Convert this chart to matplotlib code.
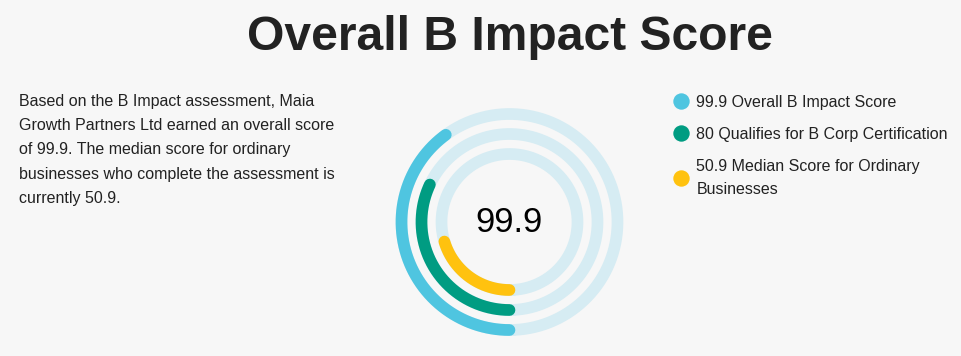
"""Overall B Impact Score radial bar chart."""

import matplotlib

matplotlib.use("Agg")
import matplotlib.pyplot as plt
import numpy as np
from matplotlib.lines import Line2D

plt.rcParams["font.family"] = ["Liberation Sans", "DejaVu Sans"]

# data
labels = [
    "99.9 Overall B Impact Score",
    "80 Qualifies for B Corp Certification",
    "50.9 Median Score for Ordinary\nBusinesses",
]
scores = [99.9, 80, 50.9]
score_max = 250
colors = ["#4fc5e0", "#009c82", "#ffc20f"]
center_label = "99.9"
title = "Overall B Impact Score"
description = [
    "Based on the B Impact assessment, Maia",
    "Growth Partners Ltd earned an overall score",
    "of 99.9. The median score for ordinary",
    "businesses who complete the assessment is",
    "currently 50.9.",
]

W, H = 962, 356
bg = "#f7f7f7"
track = "#d6ecf3"

fig = plt.figure(figsize=(W / 100, H / 100), dpi=100, facecolor=bg)


def fx(px):
    return px / W


def fy(py):
    return 1 - py / H


# radial bars in a polar axes, r measured in pixels
cx, cy, half = 509.5, 222, 120
ax = fig.add_axes(
    [fx(cx - half), fy(cy + half), 2 * half / W, 2 * half / H], projection="polar"
)
ax.set_theta_zero_location("S")
ax.set_theta_direction(-1)
ax.set_ylim(0, half)
ax.set_facecolor("none")
ax.axis("off")

radii = [108, 88, 68]
lw = 11.7 * 0.72
full = np.linspace(0, 2 * np.pi, 400)
for r, val, c in zip(radii, scores, colors):
    ax.plot(full, np.full_like(full, r), color=track, lw=lw, zorder=1)
    theta = np.linspace(0, val / score_max * 2 * np.pi, 300)
    ax.plot(
        theta,
        np.full_like(theta, r),
        color=c,
        lw=lw,
        solid_capstyle="round",
        zorder=2,
    )

fig.text(fx(509), fy(231.7), center_label, fontsize=25, ha="center",
         va="baseline", color="black")

# title
fig.text(fx(510), fy(50), title, fontsize=34.6, fontweight="bold",
         ha="center", va="baseline", color="#222222")

# description (va=baseline pins the last line)
fig.text(fx(19), fy(203), "\n".join(description), fontsize=11.52,
         ha="left", va="baseline", color="#222222", linespacing=1.78)

# legend
handles = [
    Line2D([], [], marker="o", ls="", markersize=11.8, color=c,
           markeredgewidth=0)
    for c in colors
]
leg = fig.legend(
    handles, labels, loc="upper left", bbox_to_anchor=(fx(672.5), fy(95)),
    frameon=False, fontsize=11.52, borderpad=0, borderaxespad=0,
    handlelength=1.0, handletextpad=0.5, labelspacing=1.05,
)
for t in leg.get_texts():
    t.set_color("#222222")
    t.set_linespacing(1.7)

fig.savefig("out.png", dpi=100, facecolor=bg)
